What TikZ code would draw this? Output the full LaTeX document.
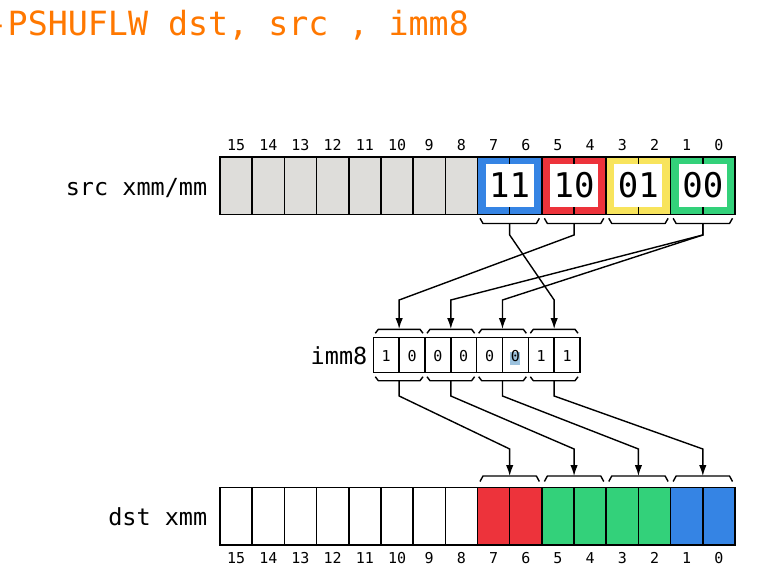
\documentclass[tikz,border=0pt]{standalone}
\usepackage{fontspec}
\setmainfont{DejaVu Sans Mono}
\usetikzlibrary{arrows.meta,calc}
\definecolor{cgray}{HTML}{DEDDDA}
\definecolor{cblue}{HTML}{3584E4}
\definecolor{cred}{HTML}{ED333B}
\definecolor{cyellow}{HTML}{F8E45C}
\definecolor{cgreen}{HTML}{33D17A}
\definecolor{corange}{HTML}{FF7800}
\definecolor{csel}{HTML}{9CC2DE}
\begin{document}
\begin{tikzpicture}[x=1pt,y=-1pt,
  cell/.style={draw=black, line width=1.6pt, inner sep=0pt, minimum width=32.1875pt, minimum height=57.5pt},
  icell/.style={draw=black, line width=1.4pt, inner sep=0pt, minimum width=25.8375pt, minimum height=35pt},
  digit/.style={anchor=base, inner sep=0pt, font=\fontsize{15}{18}\selectfont},
  valbox/.style={fill=white, inner sep=0pt, minimum width=48pt, minimum height=43pt, font=\fontsize{34}{40}\selectfont},
  bitlbl/.style={anchor=base, inner sep=0pt, font=\fontsize{15}{18}\selectfont},
  reglbl/.style={anchor=base east, inner sep=0pt, font=\fontsize{23.5}{28}\selectfont},
  brace/.style={line width=1.4pt, line join=round},
  conn/.style={line width=1.4pt, -{Latex[length=11pt,width=7.5pt]}}
]
\fill[white] (0,0) rectangle (757,572);
\useasboundingbox (0,0) rectangle (757,572);

% title
\node[anchor=base west, inner sep=0pt, text=corange, font=\fontsize{33.3}{40}\selectfont] (title) at (-12.5,36) {-PSHUFLW dst, src , imm8};

% src register
\foreach \i/\c in {15/cgray,14/cgray,13/cgray,12/cgray,11/cgray,10/cgray,9/cgray,8/cgray,7/cblue,6/cblue,5/cred,4/cred,3/cyellow,2/cyellow,1/cgreen,0/cgreen}{
  \node[cell, fill=\c] (s\i) at ({220+(15.5-\i)*32.1875},185.75) {};
  \node[bitlbl] (st\i) at ({220+(15.5-\i)*32.1875},150.8) {\i};
}
\node[valbox] (v3) at (509.7,185.5) {11};
\node[valbox] (v2) at (574.1,185.5) {10};
\node[valbox] (v1) at (638.4,185.5) {01};
\node[valbox] (v0) at (702.8,185.5) {00};
\node[reglbl] (srclbl) at (207.5,195.5) {src xmm/mm};

% src braces (below)
\foreach \k in {0,...,3}{
  \pgfmathsetmacro\xa{220+(14-2*\k)*32.1875}
  \pgfmathsetmacro\xb{\xa+64.375}
  \draw[brace] (\xa+2.5,218.3) -- (\xa+5.5,223.5) -- (\xb-5.5,223.5) -- (\xb-2.5,218.3);
  \coordinate (sb\k) at ({\xa+32.1875},223.5);
}

% imm8
\fill[csel] (509.5,351.5) rectangle (519.8,364.5);
\foreach \j/\d in {7/1,6/0,5/0,4/0,3/0,2/0,1/1,0/1}{
  \node[icell] (b\j) at ({373.3+(7.5-\j)*25.8375},354.8) {};
  \node[digit] (bd\j) at ({373.3+(7.5-\j)*25.8375},361.7) {\d};
}
\node[reglbl] (immlbl) at (367.5,364) {imm8};
\foreach \k in {0,...,3}{
  \pgfmathsetmacro\xa{373.3+(6-2*\k)*25.8375}
  \pgfmathsetmacro\xb{\xa+51.675}
  \draw[brace] (\xa+2,333.3) -- (\xa+5,329.3) -- (\xb-5,329.3) -- (\xb-2,333.3);
  \draw[brace] (\xa+2,376.7) -- (\xa+5,380.7) -- (\xb-5,380.7) -- (\xb-2,376.7);
  \coordinate (it\k) at ({\xa+25.8375},329);
  \coordinate (ib\k) at ({\xa+25.8375},380.7);
}

% dst register
\foreach \i/\c in {15/white,14/white,13/white,12/white,11/white,10/white,9/white,8/white,7/cred,6/cred,5/cgreen,4/cgreen,3/cgreen,2/cgreen,1/cblue,0/cblue}{
  \node[cell, fill=\c, minimum height=57.7pt] (d\i) at ({220+(15.5-\i)*32.1875},516.15) {};
  \node[bitlbl] (dt\i) at ({220+(15.5-\i)*32.1875},563.3) {\i};
}
\node[reglbl] (dstlbl) at (207.5,525) {dst xmm};
\foreach \k in {0,...,3}{
  \pgfmathsetmacro\xa{220+(14-2*\k)*32.1875}
  \pgfmathsetmacro\xb{\xa+64.375}
  \draw[brace] (\xa+2.5,481.5) -- (\xa+5.5,476) -- (\xb-5.5,476) -- (\xb-2.5,481.5);
  \coordinate (dtop\k) at ({\xa+32.1875},476);
}

% connectors src -> imm8
\draw[conn] (sb3) -- ++(0,11.5) -- ($(it0)+(0,-29)$) -- (it0);
\draw[conn] (sb2) -- ++(0,11.5) -- ($(it3)+(0,-29)$) -- (it3);
\draw[conn] (sb0) -- ++(0,11.5) -- ($(it2)+(0,-29)$) -- (it2);
\draw[conn] (sb0) -- ++(0,11.5) -- ($(it1)+(0,-29)$) -- (it1);

% connectors imm8 -> dst
\draw[conn] (ib3) -- ++(0,15.3) -- ($(dtop3)+(0,-27)$) -- (dtop3);
\draw[conn] (ib2) -- ++(0,15.3) -- ($(dtop2)+(0,-27)$) -- (dtop2);
\draw[conn] (ib1) -- ++(0,15.3) -- ($(dtop1)+(0,-27)$) -- (dtop1);
\draw[conn] (ib0) -- ++(0,15.3) -- ($(dtop0)+(0,-27)$) -- (dtop0);
\end{tikzpicture}
\end{document}
